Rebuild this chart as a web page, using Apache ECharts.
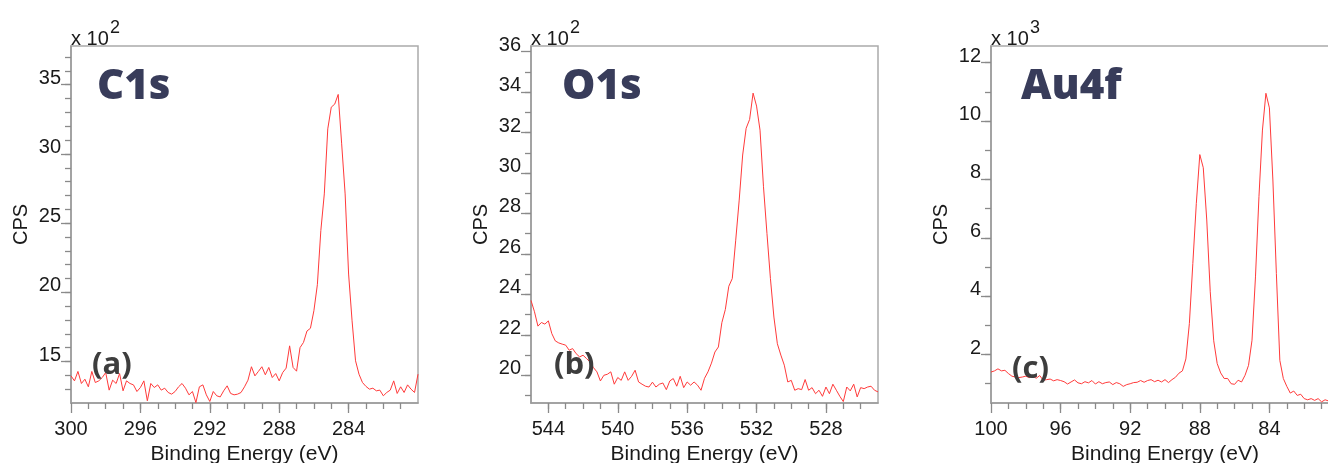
<!DOCTYPE html>
<html>
<head>
<meta charset="utf-8">
<script src="https://cdn.jsdelivr.net/npm/echarts@6/dist/echarts.min.js"></script>
<style>
  html, body { margin: 0; padding: 0; background: #fff; }
  #chart { width: 1328px; height: 463px; }
</style>
</head>
<body>
<div id="chart"></div>
<script>
// 扫描步长 0.2 eV，从高结合能往低结合能
const scanStep = 0.2

// (a) C1s, 300 -> 280 eV, CPS x 10^2
const c1sStart = 300
const c1sCps = [
  13.96, 13.6, 14.28, 13.41, 13.72, 13.17, 14.28, 13.48, 13.6, 13.84,
  14.2, 12.93, 13.65, 13.41, 14.13, 12.88, 13.6, 13.41, 13.31, 12.83,
  13.12, 13.6, 12.16, 13.41, 13.12, 13.31, 12.93, 13.07, 12.76, 12.64,
  12.83, 13.17, 13.41, 13.07, 12.59, 12.83, 12.03, 13.17, 13.31, 12.59,
  12.11, 12.83, 12.52, 12.44, 12.88, 13.24, 12.69, 12.59, 12.64, 12.76,
  13.17, 13.65, 14.62, 13.96, 14.28, 14.62, 14.04, 14.57, 13.84, 14.13,
  13.6, 14.2, 14.52, 16.13, 14.57, 14.3, 16.0, 16.38, 17.2, 17.4,
  18.67, 20.55, 24.46, 27.11, 31.81, 33.38, 33.6, 34.3, 30.73, 27.11,
  21.32, 17.94, 15.05, 14.08, 13.48, 13.2, 13.0, 13.07, 12.88, 12.93,
  12.52, 12.76, 12.93, 13.6, 12.69, 13.17, 12.76, 13.31, 13.0, 12.76,
  14.08
]

// (b) O1s, 545 -> 525 eV, CPS x 10^2
const o1sStart = 545
const o1sCps = [
  23.7, 23.14, 22.43, 22.61, 22.53, 22.69, 22.06, 21.7, 21.6, 21.54,
  21.49, 21.24, 21.32, 21.07, 20.91, 20.99, 20.83, 20.66, 20.38, 20.17,
  19.72, 20.0, 20.05, 20.17, 19.56, 19.89, 19.75, 20.17, 19.75, 19.95,
  20.25, 19.67, 19.56, 19.46, 19.42, 19.66, 19.42, 19.56, 19.62, 19.29,
  19.72, 19.84, 19.46, 19.95, 19.39, 19.67, 19.51, 19.67, 19.51, 19.26,
  19.85, 20.17, 20.6, 21.15, 21.4, 22.6, 23.25, 24.4, 24.78, 26.68,
  28.66, 30.89, 32.21, 32.65, 33.95, 33.31, 32.12, 29.32, 27.01, 24.78,
  22.88, 21.56, 21.0, 20.5, 19.67, 19.75, 19.26, 19.34, 19.29, 19.79,
  19.26, 19.39, 19.09, 19.26, 18.96, 19.42, 19.09, 19.56, 19.26, 18.96,
  18.7, 19.42, 19.23, 19.56, 18.93, 19.39, 19.34, 19.42, 19.46, 19.26,
  19.18
]

// (c) Au4f, 100 -> 80 eV, CPS x 10^3
const au4fStart = 100
const au4fCps = [
  1.40, 1.44, 1.51, 1.44, 1.46, 1.35, 1.26, 1.23, 1.21, 1.23,
  1.26, 1.21, 1.26, 1.19, 1.28, 1.12, 1.14, 1.16, 1.10, 1.14,
  1.11, 1.07, 0.99, 1.06, 1.13, 1.03, 1.00, 1.07, 1.03, 1.11,
  0.99, 1.07, 1.00, 1.04, 1.06, 0.97, 1.04, 1.00, 0.91, 0.97,
  1.00, 1.04, 1.05, 1.11, 1.05, 1.11, 1.14, 1.07, 1.12, 1.06,
  1.14, 1.04, 1.14, 1.22, 1.36, 1.44, 1.85, 3.06, 5.12, 7.18,
  8.85, 8.40, 6.61, 4.15, 2.47, 1.69, 1.37, 1.18, 1.18, 1.00,
  0.98, 1.12, 1.06, 1.29, 1.63, 2.49, 4.66, 7.41, 9.69, 10.95,
  10.45, 7.98, 4.78, 1.80, 1.18, 0.91, 0.68, 0.75, 0.60, 0.64,
  0.49, 0.45, 0.49, 0.43, 0.49, 0.38, 0.45, 0.41, 0.42, 0.40,
  0.44
]

// 刻度标签
const c1sXTicks = [300, 296, 292, 288, 284]
const c1sYTicks = [15, 20, 25, 30, 35]
const o1sXTicks = [544, 540, 536, 532, 528]
const o1sYTicks = [20, 22, 24, 26, 28, 30, 32, 34, 36]
const au4fXTicks = [100, 96, 92, 88, 84]
const au4fYTicks = [2, 4, 6, 8, 10, 12]

const panels = [
  { title: 'C1s', tag: '(a)', exp: '2', start: c1sStart, cps: c1sCps,
    xMin: 280, xMax: 300, yMin: 12, yMax: 37.8, xTicks: c1sXTicks, yTicks: c1sYTicks },
  { title: 'O1s', tag: '(b)', exp: '2', start: o1sStart, cps: o1sCps,
    xMin: 525, xMax: 545, yMin: 18.63, yMax: 36.28, xTicks: o1sXTicks, yTicks: o1sYTicks },
  { title: 'Au4f', tag: '(c)', exp: '3', start: au4fStart, cps: au4fCps,
    xMin: 80, xMax: 100, yMin: 0.34, yMax: 12.57, xTicks: au4fXTicks, yTicks: au4fYTicks }
]

// 布局
const gridLefts = [71, 531, 991]
const gridTop = 46
const gridW = 347
const gridH = 357
const axisFont = 'Liberation Sans, Arial, sans-serif'
const lineGray = '#9a9a9a'
const tickGray = '#8a8a8a'

// 次刻度，每 1 个单位
function minorValues(min, max) {
  const out = []
  for (let v = Math.ceil(min); v <= max + 1e-9; v += 1) out.push(v)
  return out
}

const grids = []
const xAxes = []
const yAxes = []
const series = []
const graphics = []

panels.forEach((p, i) => {
  const gl = gridLefts[i]
  grids.push({
    left: gl, top: gridTop, width: i === 2 ? 348 : gridW, height: gridH,
    outerBoundsMode: 'none', containLabel: false,
    show: true, borderColor: '#ababab', borderWidth: 1.5
  })
  // 主刻度 + 标签
  xAxes.push({
    gridIndex: i, type: 'value', position: 'bottom', inverse: true,
    min: p.xMin, max: p.xMax,
    axisLine: { show: true, onZero: false, lineStyle: { color: lineGray, width: 1.5 } },
    axisTick: { customValues: p.xTicks, length: 10, lineStyle: { color: tickGray, width: 1.3 } },
    axisLabel: { customValues: p.xTicks, margin: 16, fontSize: 20, color: '#1a1a1a', fontFamily: axisFont },
    splitLine: { show: false },
    name: 'Binding Energy (eV)', nameLocation: 'middle', nameGap: 38,
    nameTextStyle: { fontSize: 21, color: '#1a1a1a', fontFamily: axisFont }
  })
  // 次刻度
  xAxes.push({
    gridIndex: i, type: 'value', position: 'bottom', inverse: true,
    min: p.xMin, max: p.xMax,
    axisLine: { show: false, onZero: false },
    axisTick: { customValues: minorValues(p.xMin + 1, p.xMax - 1), length: 6, lineStyle: { color: tickGray, width: 1.3 } },
    axisLabel: { show: false },
    splitLine: { show: false }
  })
  yAxes.push({
    gridIndex: i, type: 'value', position: 'left',
    min: p.yMin, max: p.yMax,
    axisLine: { show: true, onZero: false, lineStyle: { color: lineGray, width: 1.5 } },
    axisTick: { customValues: p.yTicks, length: 10, lineStyle: { color: tickGray, width: 1.3 } },
    axisLabel: { customValues: p.yTicks, margin: 10, fontSize: 20, color: '#1a1a1a', fontFamily: axisFont,
      verticalAlign: 'bottom', lineHeight: 13 },
    splitLine: { show: false },
    name: 'CPS', nameLocation: 'middle', nameGap: 40,
    nameTextStyle: { fontSize: 20, color: '#1a1a1a', fontFamily: axisFont }
  })
  yAxes.push({
    gridIndex: i, type: 'value', position: 'left',
    min: p.yMin, max: p.yMax,
    axisLine: { show: false, onZero: false },
    axisTick: { customValues: minorValues(p.yMin + 0.3, p.yMax - 0.3), length: 6, lineStyle: { color: tickGray, width: 1.3 } },
    axisLabel: { show: false },
    splitLine: { show: false }
  })
  series.push({
    type: 'line', xAxisIndex: i * 2, yAxisIndex: i * 2,
    showSymbol: false, symbol: 'none', smooth: false,
    lineStyle: { color: '#ff3a3a', width: 1 },
    data: p.cps.map((v, k) => [Math.round((p.start - k * scanStep) * 10) / 10, v])
  })
  // x 10^n
  graphics.push({
    type: 'text', left: gl, top: 29, z: 10,
    style: { text: 'x 10', font: '20px ' + axisFont, fill: '#1a1a1a' }
  })
  graphics.push({
    type: 'text', left: gl + 39, top: 19, z: 10,
    style: { text: p.exp, font: '18px ' + axisFont, fill: '#1a1a1a' }
  })
  // 大标题
  graphics.push({
    type: 'text', left: gl + [26, 31, 30][i], top: 66, z: 10,
    style: { text: p.title, font: '800 42px "Open Sans"', fill: '#383c5a' }
  })
  // 序号
  graphics.push({
    type: 'text', left: gl + [21, 23, 21][i], top: [350, 350, 354][i], z: 10,
    style: { text: p.tag, font: 'bold 31px "Open Sans"', fill: '#3d3d3d' }
  })
})

const chart = echarts.init(document.getElementById('chart'), null, { renderer: 'canvas' })
chart.setOption({
  animation: false,
  backgroundColor: '#fff',
  grid: grids,
  xAxis: xAxes,
  yAxis: yAxes,
  series: series,
  graphic: graphics
})
</script>
</body>
</html>
